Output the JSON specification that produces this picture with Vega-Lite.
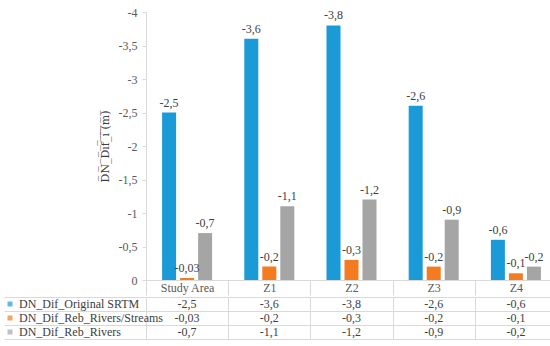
{
  "$schema": "https://vega.github.io/schema/vega-lite/v6.json",
  "padding": {"left": 3, "top": 6, "right": 0, "bottom": 0},
  "spacing": 0,
  "config": {
    "locale": {"number": {"decimal": ",", "thousands": ".", "grouping": [3], "currency": ["", ""], "minus": "-"}},
    "font": "Liberation Serif",
    "view": {"stroke": null},
    "axis": {"labelFont": "Liberation Serif", "titleFont": "DejaVu Serif", "labelFontSize": 12, "labelColor": "#595959", "titleColor": "#404040", "titleFontWeight": "normal", "titleFontSize": 11},
    "legend": {"labelFont": "Liberation Serif", "labelFontSize": 12, "labelColor": "#404040"}
  },
  "datasets": {
    "bars": [
      {"cat": "Study Area", "series": "DN_Dif_Original SRTM", "value": -2.5},
      {"cat": "Study Area", "series": "DN_Dif_Reb_Rivers/Streams", "value": -0.03},
      {"cat": "Study Area", "series": "DN_Dif_Reb_Rivers", "value": -0.7},
      {"cat": "Z1", "series": "DN_Dif_Original SRTM", "value": -3.6},
      {"cat": "Z1", "series": "DN_Dif_Reb_Rivers/Streams", "value": -0.2},
      {"cat": "Z1", "series": "DN_Dif_Reb_Rivers", "value": -1.1},
      {"cat": "Z2", "series": "DN_Dif_Original SRTM", "value": -3.8},
      {"cat": "Z2", "series": "DN_Dif_Reb_Rivers/Streams", "value": -0.3},
      {"cat": "Z2", "series": "DN_Dif_Reb_Rivers", "value": -1.2},
      {"cat": "Z3", "series": "DN_Dif_Original SRTM", "value": -2.6},
      {"cat": "Z3", "series": "DN_Dif_Reb_Rivers/Streams", "value": -0.2},
      {"cat": "Z3", "series": "DN_Dif_Reb_Rivers", "value": -0.9},
      {"cat": "Z4", "series": "DN_Dif_Original SRTM", "value": -0.6},
      {"cat": "Z4", "series": "DN_Dif_Reb_Rivers/Streams", "value": -0.1},
      {"cat": "Z4", "series": "DN_Dif_Reb_Rivers", "value": -0.2}
    ]
  },
  "resolve": {"scale": {"color": "independent", "x": "independent"}, "legend": {"color": "independent"}},
  "vconcat": [
    {
      "width": 411,
      "height": 268,
      "data": {"name": "bars"},
      "encoding": {
        "x": {
          "field": "cat", "type": "nominal",
          "sort": ["Study Area", "Z1", "Z2", "Z3", "Z4"],
          "scale": {"paddingInner": 0, "paddingOuter": 0},
          "axis": {"title": null, "labelAngle": 0, "tickBand": "extent", "tickSize": 15, "tickColor": "#d9d9d9", "domainColor": "#d9d9d9", "labelPadding": -13, "minExtent": 15, "maxExtent": 15, "labelBaseline": "top"}
        },
        "xOffset": {
          "field": "series", "type": "nominal",
          "sort": ["DN_Dif_Original SRTM", "DN_Dif_Reb_Rivers/Streams", "DN_Dif_Reb_Rivers"],
          "scale": {"paddingInner": 0.222, "paddingOuter": 0.894}
        },
        "y": {
          "field": "value", "type": "quantitative",
          "scale": {"domain": [-4, 0], "reverse": true, "nice": false},
          "axis": {
            "title": "D\u0305N\u0305_\u0305D\u0305i\u0305f\u0305_\u0305i\u0305 \u0305(\u0305m\u0305)\u0305",
            "values": [-4, -3.5, -3, -2.5, -2, -1.5, -1, -0.5, 0],
            "format": "~g", "grid": false, "tickSize": 4, "tickColor": "#d9d9d9", "domainColor": "#d9d9d9",
            "labelPadding": 5, "titlePadding": 8
          }
        }
      },
      "layer": [
        {
          "mark": {"type": "bar"},
          "encoding": {
            "color": {
              "field": "series", "type": "nominal",
              "scale": {"domain": ["DN_Dif_Original SRTM", "DN_Dif_Reb_Rivers/Streams", "DN_Dif_Reb_Rivers"], "range": ["#1a9bd7", "#f47b20", "#a5a5a5"]},
              "legend": null
            }
          }
        },
        {
          "mark": {"type": "text", "baseline": "bottom", "dy": -3, "fontSize": 12, "color": "#404040", "font": "Liberation Serif"},
          "encoding": {"text": {"field": "value", "type": "quantitative", "format": "~g"}}
        }
      ]
    },
    {
      "width": 411,
      "height": 42,
      "data": {"name": "bars"},
      "encoding": {
        "x": {
          "field": "cat", "type": "nominal",
          "sort": ["Study Area", "Z1", "Z2", "Z3", "Z4"],
          "scale": {"paddingInner": 0, "paddingOuter": 0},
          "axis": {"title": null, "labels": false, "ticks": false, "domain": false, "grid": true, "tickBand": "extent", "gridColor": "#d9d9d9"}
        },
        "y": {
          "field": "series", "type": "nominal",
          "sort": ["DN_Dif_Original SRTM", "DN_Dif_Reb_Rivers/Streams", "DN_Dif_Reb_Rivers"],
          "scale": {"paddingInner": 0, "paddingOuter": 0},
          "axis": {"title": null, "labels": false, "domain": false, "ticks": true, "tickSize": 142, "tickBand": "extent", "tickColor": "#d9d9d9", "grid": true, "gridColor": "#d9d9d9"}
        }
      },
      "layer": [
        {
          "mark": {"type": "text", "fontSize": 12, "color": "#404040", "baseline": "middle", "font": "Liberation Serif"},
          "encoding": {"text": {"field": "value", "type": "quantitative", "format": "~g"}}
        },
        {
          "mark": {"type": "square", "size": 0},
          "encoding": {
            "color": {
              "field": "series", "type": "nominal",
              "scale": {"domain": ["DN_Dif_Original SRTM", "DN_Dif_Reb_Rivers/Streams", "DN_Dif_Reb_Rivers"], "range": ["#1a9bd7", "#f47b20", "#a5a5a5"]},
              "legend": {"orient": "none", "legendX": -142, "legendY": 1, "title": null, "symbolType": "square", "symbolSize": 25, "rowPadding": 2, "labelOffset": 3, "padding": 0, "labelFont": "Liberation Serif", "labelFontSize": 12}
            }
          }
        }
      ]
    }
  ]
}
